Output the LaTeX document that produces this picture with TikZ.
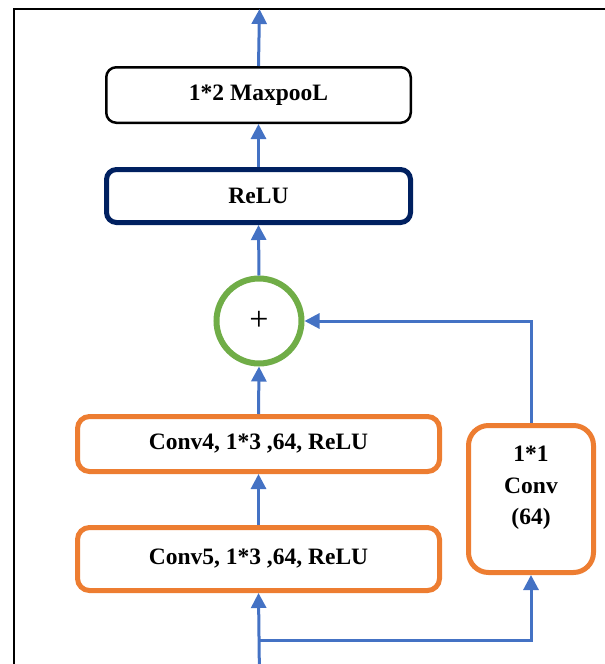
\documentclass[tikz,border=0pt]{standalone}
\usepackage{fontspec}
\setmainfont{Liberation Serif}
\usetikzlibrary{arrows.meta}
\definecolor{linkblue}{HTML}{4472C4}
\definecolor{convorange}{HTML}{ED7D31}
\definecolor{sumgreen}{HTML}{70AD47}
\definecolor{actnavy}{HTML}{002060}
\tikzset{
  lbl/.style={font=\fontsize{23.5}{31.5}\selectfont\bfseries, align=center},
  blockbox/.style={lbl, draw, rounded corners=10pt, inner sep=0pt, fill=white},
  poolbox/.style={blockbox, draw=black, line width=2.5pt},
  actbox/.style={blockbox, draw=actnavy, line width=5pt},
  convbox/.style={blockbox, draw=convorange, line width=5pt, rounded corners=12pt},
  sumnode/.style={circle, draw=sumgreen, line width=6pt, minimum size=85pt, inner sep=0pt,
    font=\fontsize{34}{34}\selectfont},
  flow/.style={draw=linkblue, line width=3pt, -{Triangle[length=15pt,width=15pt]}},
}
\begin{document}
\begin{tikzpicture}[x=1pt,y=-1pt]
  \useasboundingbox (0,0) rectangle (605,664);
  \begin{scope}
    \clip (0,0) rectangle (605,664);
    % outer frame, running past the right and bottom edges
    \draw[line width=2pt] (14,680) -- (14,9) -- (620,9);

    \node[poolbox, minimum width=304.5pt, minimum height=55.5pt] (pool) at (258.5,95) {1*2 MaxpooL};
    \node[actbox, minimum width=304pt, minimum height=53pt] (relu) at (258.5,196) {ReLU};
    \node[sumnode] (plus) at (259,321) {+};
    \node[convbox, minimum width=362pt, minimum height=55pt] (conv4) at (258.5,444) {Conv4, 1*3 ,64, ReLU};
    \node[convbox, minimum width=362pt, minimum height=63pt] (conv5) at (258.5,559) {Conv5, 1*3 ,64, ReLU};
    \node[convbox, rounded corners=20pt, minimum width=125pt, minimum height=147pt] (short) at (531,499) {};
    \node[lbl] (shorttxt) at (531,488) {1*1\\Conv\\(64)};

    \coordinate (out) at (259.5,9);
    \coordinate (in) at (259.5,680);
    \coordinate (split) at (259.5,640);

    \draw[flow] (in) -- (conv5.south);
    \draw[flow] (split) -| (short.south);
    \draw[flow] (conv5.north) -- (conv4.south);
    \draw[flow] (conv4.north) -- (plus.south);
    \draw[flow] (short.north) |- (plus.east);
    \draw[flow] (plus.north) -- (relu.south);
    \draw[flow] (relu.north) -- (pool.south);
    \draw[flow] (pool.north) -- (out);
  \end{scope}
\end{tikzpicture}
\end{document}
